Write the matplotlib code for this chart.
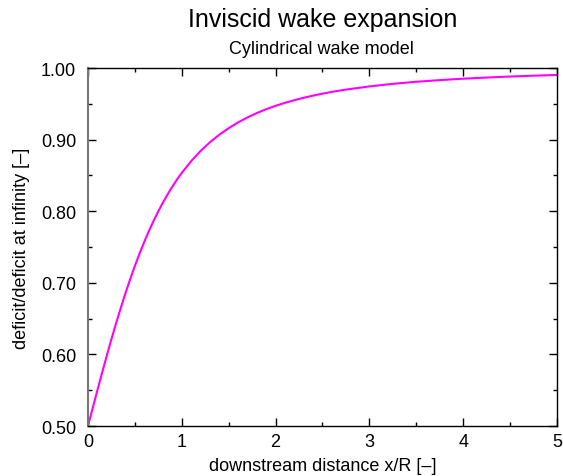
import matplotlib
matplotlib.use("Agg")
import matplotlib.pyplot as plt
from matplotlib.ticker import MultipleLocator, FormatStrFormatter

# Downstream distance x/R and normalised velocity deficit
x_over_r = [0.0, 0.05, 0.1, 0.15, 0.2, 0.25, 0.3, 0.35, 0.4, 0.45, 0.5,
            0.55, 0.6, 0.65, 0.7, 0.75, 0.8, 0.85, 0.9, 0.95, 1.0,
            1.1, 1.2, 1.3, 1.4, 1.5, 1.6, 1.7, 1.8, 1.9, 2.0,
            2.1, 2.25, 2.4, 2.5, 2.6, 2.75, 3.0, 3.25, 3.5, 3.75,
            4.0, 4.25, 4.5, 4.75, 5.0]
deficit_ratio = [0.5000, 0.5250, 0.5498, 0.5742, 0.5981, 0.6213, 0.6437,
                 0.6652, 0.6857, 0.7052, 0.7236, 0.7410, 0.7572, 0.7725,
                 0.7867, 0.8000, 0.8123, 0.8238, 0.8345, 0.8444, 0.8536,
                 0.8700, 0.8841, 0.8963, 0.9069, 0.9160, 0.9240, 0.9310,
                 0.9371, 0.9425, 0.9472, 0.9514, 0.9569, 0.9615, 0.9642,
                 0.9667, 0.9699, 0.9743, 0.9779, 0.9808, 0.9831, 0.9851,
                 0.9867, 0.9881, 0.9893, 0.9903]

plt.rcParams["font.family"] = ["Liberation Sans", "DejaVu Sans"]

fig = plt.figure(figsize=(5.63, 4.77), dpi=100)
ax = fig.add_axes([0.1563, 0.1048, 0.8330, 0.7505])

ax.plot(x_over_r, deficit_ratio, color="#ff00ff", lw=1.5)

ax.set_xlim(0, 5)
ax.set_ylim(0.5, 1.0)
ax.xaxis.set_major_locator(MultipleLocator(1))
ax.xaxis.set_minor_locator(MultipleLocator(0.5))
ax.yaxis.set_major_locator(MultipleLocator(0.1))
ax.yaxis.set_minor_locator(MultipleLocator(0.05))
ax.yaxis.set_major_formatter(FormatStrFormatter("%.2f"))
ax.tick_params(which="both", direction="in", top=True, right=True,
               labelsize=13, width=1)
ax.tick_params(axis="x", which="both", pad=5)
ax.tick_params(axis="y", which="both", pad=8.5)
ax.tick_params(which="major", length=6)
ax.tick_params(which="minor", length=3)

for s in ax.spines.values():
    s.set_linewidth(1)
    s.set_color("black")
ax.spines["left"].set_color("#777777")
ax.spines["left"].set_linewidth(1.5)

ax.set_xlabel("downstream distance x/R [–]", fontsize=13, labelpad=5)
ax.set_ylabel("deficit/deficit at infinity [–]", fontsize=13, labelpad=8)

fig.text(0.573, 0.9434, "Inviscid wake expansion", ha="center",
         va="baseline", fontsize=18)
fig.text(0.571, 0.8868, "Cylindrical wake model", ha="center",
         va="baseline", fontsize=13)

fig.savefig("out.png", dpi=100)
